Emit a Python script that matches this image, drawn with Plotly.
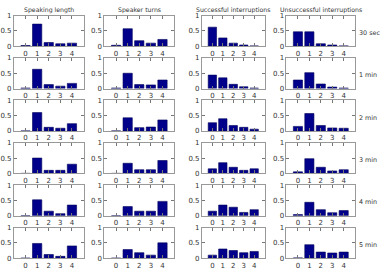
import plotly.graph_objects as go

columns = ["Speaking length", "Speaker turns", "Successful interruptions", "Unsuccessful interruptions"]
rows = ["30 sec", "1 min", "2 min", "3 min", "4 min", "5 min"]
categories = [0, 1, 2, 3, 4]

speaking_length = [
    [0.02, 0.72, 0.12, 0.08, 0.10],
    [0.02, 0.63, 0.13, 0.08, 0.17],
    [0.00, 0.60, 0.12, 0.09, 0.24],
    [0.00, 0.50, 0.10, 0.10, 0.30],
    [0.00, 0.52, 0.15, 0.07, 0.35],
    [0.00, 0.48, 0.12, 0.06, 0.40],
]
speaker_turns = [
    [0.03, 0.57, 0.18, 0.10, 0.22],
    [0.02, 0.50, 0.13, 0.12, 0.28],
    [0.00, 0.43, 0.11, 0.13, 0.36],
    [0.00, 0.33, 0.12, 0.12, 0.42],
    [0.00, 0.30, 0.15, 0.15, 0.47],
    [0.00, 0.28, 0.18, 0.10, 0.50],
]
successful = [
    [0.62, 0.27, 0.10, 0.04, 0.01],
    [0.44, 0.35, 0.14, 0.06, 0.02],
    [0.27, 0.40, 0.18, 0.12, 0.06],
    [0.15, 0.35, 0.20, 0.10, 0.15],
    [0.15, 0.35, 0.28, 0.11, 0.20],
    [0.10, 0.30, 0.25, 0.18, 0.22],
]
unsuccessful = [
    [0.47, 0.47, 0.08, 0.04, 0.01],
    [0.28, 0.52, 0.15, 0.05, 0.02],
    [0.15, 0.57, 0.18, 0.10, 0.09],
    [0.05, 0.48, 0.20, 0.08, 0.12],
    [0.04, 0.44, 0.20, 0.10, 0.17],
    [0.01, 0.44, 0.20, 0.17, 0.20],
]
series = [speaking_length, speaker_turns, successful, unsuccessful]

W, H = 380, 270
col_px = [(12, 82), (103, 173), (201, 264), (286, 355)]
row_top = [12, 56.2, 100.4, 144.6, 188.8, 233]
row_h = 32

fig = go.Figure()
layout = dict(width=W, height=H, margin=dict(l=0, r=0, t=0, b=0),
              paper_bgcolor="white", plot_bgcolor="white", showlegend=False,
              font=dict(family="DejaVu Sans", size=6.5, color="#333"))
annotations = []
k = 0
for r in range(6):
    for c in range(4):
        k += 1
        xa = "x" if k == 1 else f"x{k}"
        ya = "y" if k == 1 else f"y{k}"
        fig.add_trace(go.Bar(x=categories, y=series[c][r], xaxis=xa, yaxis=ya, width=0.8,
                             marker=dict(color="#00008B", line=dict(color="#00005a", width=0.6))))
        x0, x1 = col_px[c]
        y0 = row_top[r]
        y1 = y0 + row_h
        common = dict(showline=True, linecolor="#999", linewidth=1, mirror="ticks",
                      ticks="inside", ticklen=3, tickcolor="#777", showgrid=False,
                      zeroline=False, fixedrange=True, tickfont=dict(size=7, color="#333"))
        layout["xaxis" if k == 1 else f"xaxis{k}"] = dict(
            domain=[x0 / W, x1 / W], range=[-1, 5], tickvals=categories,
            anchor=ya, **common)
        layout["yaxis" if k == 1 else f"yaxis{k}"] = dict(
            domain=[1 - y1 / H, 1 - y0 / H], range=[0, 1], tickvals=[0, 0.5, 1],
            ticktext=["0", "0.5", "1"], anchor=xa, **common)
        if r == 0:
            annotations.append(dict(text=columns[c], x=(x0 + x1) / 2 / W, y=1 - 6 / H,
                                    xref="paper", yref="paper", showarrow=False,
                                    font=dict(size=6.2, color="#333"),
                                    xanchor="center", yanchor="middle"))
        if c == 3:
            annotations.append(dict(text=rows[r], x=357 / W, y=1 - (y0 + 18) / H,
                                    xref="paper", yref="paper", showarrow=False,
                                    font=dict(size=6.4, color="#333"),
                                    xanchor="left", yanchor="middle"))
layout["annotations"] = annotations
fig.update_layout(**layout)
fig.write_html("out.html")
